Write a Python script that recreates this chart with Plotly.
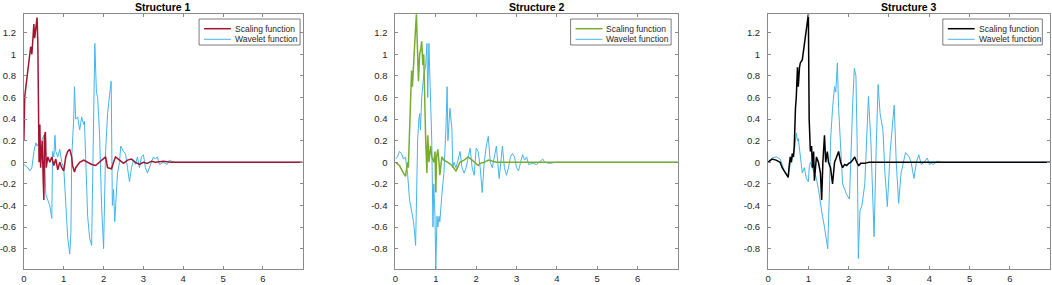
import plotly.graph_objects as go

# ---------------- data ----------------
s1_x = [0, 0.02, 0.05, 0.08, 0.12, 0.17, 0.2, 0.22, 0.25, 0.27, 0.3, 0.33, 0.35, 0.37, 0.38, 0.4, 0.42, 0.44, 0.46, 0.48, 0.5,
        0.52, 0.54, 0.56, 0.6, 0.65, 0.7, 0.75, 0.8, 0.85, 0.9, 0.95, 1.0, 1.05, 1.1, 1.15, 1.2, 1.22, 1.27, 1.3, 1.35, 1.4,
        1.5, 1.6, 1.7, 1.8, 1.9, 2.0, 2.05, 2.1, 2.2, 2.25, 2.3, 2.4, 2.5, 2.6, 2.7, 2.8, 2.9, 3.0, 3.1, 3.2, 3.3, 3.5, 3.7, 4.0, 7.0]
s1_y = [0.2, 0.6, 0.7, 0.8, 0.9, 1.07, 1.0, 1.1, 1.28, 1.15, 1.25, 1.34, 1.1, 0.35, 0.0, 0.35, -0.05, 0.1, 0.2, -0.1, -0.35,
        0.25, 0.28, -0.05, 0.05, 0.0, 0.05, -0.03, 0.03, -0.07, 0.0, -0.05, -0.08, 0.05, 0.1, 0.12, 0.05, -0.03, -0.09, -0.05, -0.03, 0.0,
        0.02, 0.0, -0.02, -0.03, 0.0, 0.03, 0.05, -0.05, -0.06, 0.0, 0.05, 0.02, -0.01, 0.02, 0.03, 0.0, -0.02, 0.0, -0.01, 0.01, 0.0, 0.01, 0.0, 0.0, 0.0]

w1_x = [0, 0.1, 0.15, 0.2, 0.25, 0.3, 0.33, 0.38, 0.45, 0.5, 0.52, 0.55, 0.6, 0.65, 0.7, 0.72, 0.75, 0.78, 0.8, 0.85, 0.9, 0.95,
        1.0, 1.05, 1.1, 1.15, 1.18, 1.2, 1.25, 1.27, 1.3, 1.35, 1.4, 1.45, 1.5, 1.52, 1.55, 1.6, 1.65, 1.7, 1.72, 1.75, 1.78, 1.82,
        1.85, 1.88, 1.9, 1.95, 1.98, 2.0, 2.05, 2.1, 2.15, 2.19, 2.22, 2.25, 2.28, 2.32, 2.35, 2.4, 2.43, 2.5, 2.55, 2.6, 2.65, 2.7,
        2.75, 2.8, 2.85, 2.9, 2.95, 3.0, 3.05, 3.1, 3.15, 3.2, 3.25, 3.3, 3.35, 3.4, 3.5, 3.6, 3.65, 3.7, 3.8, 4.0, 7.0]
w1_y = [-0.02, -0.05, -0.08, -0.05, 0.1, 0.18, 0.15, 0.18, 0.2, 0.25, 0.05, -0.3, -0.35, -0.4, -0.52, 0.1, 0.05, 0.25, 0.1, 0.05, 0.12, 0.0,
        -0.05, -0.35, -0.7, -0.85, -0.65, 0.05, 0.4, 0.7, 0.4, 0.42, 0.3, 0.42, 0.35, 0.38, 0.0, -0.5, -0.7, -0.77, -0.3, 0.6, 1.1, 0.65,
        0.6, 0.4, 0.25, -0.4, -0.6, -0.8, 0.1, 0.45, 0.62, 0.75, -0.4, -0.25, -0.55, -0.3, -0.1, 0.0, 0.15, 0.1, 0.08, -0.05, -0.18, -0.05,
        0.02, -0.02, 0.05, -0.05, 0.05, 0.07, -0.05, -0.1, -0.05, 0.02, 0.05, 0.03, 0.05, -0.02, 0.0, -0.02, 0.02, 0.01, 0.0, 0.0, 0.0]

s2_x = [0, 0.1, 0.2, 0.25, 0.28, 0.3, 0.32, 0.35, 0.38, 0.4, 0.42, 0.45, 0.48, 0.5, 0.52, 0.55, 0.57, 0.6, 0.63, 0.65, 0.68, 0.7,
        0.72, 0.75, 0.78, 0.8, 0.83, 0.87, 0.9, 0.95, 0.98, 1.0, 1.02, 1.05, 1.08, 1.1, 1.12, 1.15, 1.2, 1.3, 1.4, 1.45, 1.5, 1.55,
        1.6, 1.7, 1.8, 1.9, 2.0, 2.05, 2.1, 2.2, 2.3, 2.4, 2.5, 2.6, 2.8, 3.0, 7.0]
s2_y = [0.0, -0.03, -0.1, -0.13, -0.05, 0.0, -0.05, 0.3, 0.7, 0.85, 0.7, 0.95, 1.15, 1.25, 1.37, 0.9, 0.75, 1.0, 1.05, 1.12, 0.9, 1.0,
        0.55, 0.2, -0.1, 0.25, 0.0, 0.15, 0.05, 0.0, 0.1, -0.28, 0.05, 0.12, 0.0, -0.12, -0.05, 0.05, 0.02, 0.0, -0.03, -0.05, -0.08, -0.04,
        0.0, 0.02, 0.05, 0.02, -0.02, -0.03, -0.01, 0.0, 0.02, 0.01, 0.0, 0.0, 0.0, 0.0, 0.0]

w2_x = [0, 0.05, 0.1, 0.15, 0.2, 0.25, 0.28, 0.3, 0.35, 0.4, 0.45, 0.5, 0.52, 0.55, 0.58, 0.6, 0.62, 0.65, 0.7, 0.75, 0.78, 0.8,
        0.83, 0.85, 0.9, 0.93, 0.95, 0.98, 1.0, 1.03, 1.05, 1.08, 1.1, 1.15, 1.2, 1.25, 1.28, 1.3, 1.35, 1.4, 1.42, 1.45, 1.5, 1.55,
        1.6, 1.65, 1.7, 1.75, 1.8, 1.85, 1.9, 1.95, 2.0, 2.05, 2.1, 2.15, 2.2, 2.25, 2.3, 2.35, 2.4, 2.45, 2.5, 2.57, 2.65, 2.7,
        2.75, 2.8, 2.85, 2.9, 2.95, 3.0, 3.05, 3.1, 3.15, 3.2, 3.25, 3.3, 3.4, 3.5, 3.6, 3.65, 3.7, 3.8, 4.0, 7.0]
w2_y = [0.03, 0.05, 0.1, 0.08, 0.03, 0.05, -0.05, -0.1, -0.35, -0.45, -0.55, -0.77, -0.2, 0.2, 0.4, 0.45, 0.3, 0.6, 0.8, 0.9, 1.1, 0.6,
        1.1, 0.85, 0.2, -0.6, -0.2, -0.5, -0.99, -0.5, -0.6, -0.5, -0.55, -0.3, -0.1, 0.3, 0.7, 0.2, 0.5, 0.3, -0.05, 0.0, -0.05, 0.02,
        0.1, -0.05, -0.1, -0.05, 0.05, 0.13, -0.05, -0.12, 0.13, 0.1, -0.05, -0.28, 0.0, 0.15, 0.24, 0.0, -0.05, 0.05, 0.15, -0.15, 0.15, -0.05,
        -0.12, -0.05, 0.05, 0.08, 0.05, -0.05, -0.08, 0.0, 0.07, 0.02, 0.05, -0.02, -0.01, -0.02, 0.01, 0.03, 0.0, -0.01, 0.0, 0.0]

s3_x = [0, 0.05, 0.1, 0.2, 0.3, 0.35, 0.4, 0.45, 0.5, 0.52, 0.55, 0.58, 0.6, 0.63, 0.65, 0.68, 0.7, 0.73, 0.75, 0.78, 0.8, 0.85,
        0.9, 0.95, 0.98, 1.0, 1.02, 1.05, 1.08, 1.1, 1.13, 1.15, 1.2, 1.25, 1.3, 1.33, 1.36, 1.4, 1.43, 1.47, 1.5, 1.55, 1.6, 1.65,
        1.7, 1.75, 1.8, 1.85, 1.9, 1.95, 2.0, 2.05, 2.1, 2.15, 2.2, 2.25, 2.3, 2.4, 2.5, 7.0]
s3_y = [0.0, 0.02, 0.03, 0.02, 0.0, -0.05, -0.08, -0.1, -0.14, -0.05, 0.05, 0.0, 0.08, 0.05, 0.15, 0.5, 0.6, 0.88, 0.7, 0.88, 0.92, 0.95,
        1.1, 1.2, 1.3, 1.37, 0.4, 0.1, 0.15, -0.05, 0.1, -0.17, 0.05, 0.0, -0.1, -0.35, 0.0, 0.25, 0.0, 0.1, 0.0, -0.05, -0.2, 0.0,
        0.05, 0.1, 0.0, -0.05, -0.02, -0.03, -0.01, 0.0, 0.02, 0.05, 0.0, -0.03, -0.01, -0.01, 0.0, 0.0]

w3_x = [0, 0.1, 0.2, 0.3, 0.35, 0.4, 0.45, 0.5, 0.55, 0.6, 0.65, 0.7, 0.73, 0.75, 0.8, 0.85, 0.9, 0.95, 1.0, 1.02, 1.05, 1.1,
        1.15, 1.2, 1.25, 1.3, 1.35, 1.4, 1.48, 1.52, 1.55, 1.6, 1.65, 1.68, 1.72, 1.75, 1.8, 1.85, 1.9, 1.95, 2.02, 2.06, 2.1, 2.14,
        2.18, 2.21, 2.24, 2.28, 2.33, 2.4, 2.45, 2.49, 2.55, 2.63, 2.68, 2.73, 2.78, 2.85, 2.9, 2.96, 3.03, 3.08, 3.13, 3.18, 3.24,
        3.3, 3.41, 3.5, 3.55, 3.62, 3.68, 3.74, 3.8, 3.87, 3.95, 4.0, 4.05, 4.1, 4.2, 4.3, 7.0]
w3_y = [0.0, 0.04, 0.05, 0.03, -0.02, -0.08, -0.1, -0.12, -0.02, 0.05, 0.1, 0.27, 0.2, 0.22, 0.05, -0.1, -0.05, -0.15, -0.18, -0.05, 0.0, -0.05,
        -0.1, -0.15, -0.25, -0.4, -0.5, -0.6, -0.8, -0.3, 0.2, 0.5, 0.7, 0.65, 0.92, 0.5, 0.1, -0.2, -0.25, -0.3, -0.34, 0.2, 0.55, 0.87,
        0.8, 0.2, -0.89, -0.45, -0.4, -0.2, 0.3, 0.61, 0.2, -0.69, 0.1, 0.72, 0.45, 0.3, -0.1, -0.41, 0.1, 0.35, 0.53, 0.0, -0.38,
        -0.1, 0.09, 0.05, 0.0, -0.15, 0.0, 0.07, -0.02, 0.0, 0.04, -0.02, -0.01, -0.02, 0.01, 0.0, 0.0]

titles = ["Structure 1", "Structure 2", "Structure 3"]
legend_names = ["Scaling function", "Wavelet function"]
scaling_colors = ["#A2142F", "#77AC30", "#000000"]
wavelet_color = "#45B4EA"
x_ticks = [0, 1, 2, 3, 4, 5, 6]
y_ticks = [-0.8, -0.6, -0.4, -0.2, 0, 0.2, 0.4, 0.6, 0.8, 1, 1.2]
y_tick_text = ["-0.8", "-0.6", "-0.4", "-0.2", "0", "0.2", "0.4", "0.6", "0.8", "1", "1.2"]

# ---------------- figure ----------------
W, H = 1052, 285
ML, MR, MT, MB = 0, 0, 14, 16
domains_px = [(19, 299), (392.3, 676), (766.7, 1050)]
legend_box_px = [(195, 296.5), (568.3, 669.3), (942.3, 1042.3)]
LEG_TOP, LEG_BOT = 19, 45
LEG_ROWS = [28.7, 39.3]


def px_x(p):
    return (p - ML) / (W - ML - MR)


def px_y(p):
    return 1 - (p - MT) / (H - MT - MB)


scal = [(s1_x, s1_y), (s2_x, s2_y), (s3_x, s3_y)]
wave = [(w1_x, w1_y), (w2_x, w2_y), (w3_x, w3_y)]

fig = go.Figure()
axis_col = "#8a8a8a"
font_col = "#262626"
annotations, shapes = [], []
layout = dict(
    width=W, height=H,
    margin=dict(l=ML, r=MR, t=MT, b=MB),
    paper_bgcolor="white", plot_bgcolor="white",
    font=dict(family="Liberation Sans, Arial, sans-serif", size=10, color=font_col),
    showlegend=False,
)

for i in range(3):
    sfx = "" if i == 0 else str(i + 1)
    xa, ya = "x" + sfx, "y" + sfx
    fig.add_trace(go.Scatter(x=wave[i][0], y=wave[i][1], mode="lines", name=legend_names[1],
                             line=dict(color=wavelet_color, width=1), xaxis=xa, yaxis=ya))
    fig.add_trace(go.Scatter(x=scal[i][0], y=scal[i][1], mode="lines", name=legend_names[0],
                             line=dict(color=scaling_colors[i], width=1.5), xaxis=xa, yaxis=ya))
    d0, d1 = px_x(domains_px[i][0]), px_x(domains_px[i][1])
    common = dict(showgrid=False, zeroline=False, showline=True, linecolor=axis_col, linewidth=1,
                  mirror="ticks", ticks="inside", ticklen=3, tickcolor=axis_col,
                  tickfont=dict(size=9.5, color=font_col))
    layout["xaxis" + sfx] = dict(domain=[d0, d1], range=[0, 6.995], tickvals=x_ticks, anchor=ya,
                                 ticklabelstandoff=1, **common)
    layout["yaxis" + sfx] = dict(domain=[0, 1], range=[-0.988, 1.373], tickvals=y_ticks, ticktext=y_tick_text,
                                 anchor=xa, ticklabelstandoff=5, **common)
    annotations.append(dict(text="<b>" + titles[i] + "</b>", xref="paper", yref="paper",
                            x=(d0 + d1) / 2, y=1, yanchor="bottom", xanchor="center",
                            showarrow=False, font=dict(size=10.5, color="#000000"), yshift=-1))
    # legend box
    bx0, bx1 = legend_box_px[i]
    shapes.append(dict(type="rect", xref="paper", yref="paper", x0=px_x(bx0), x1=px_x(bx1),
                       y0=px_y(LEG_BOT), y1=px_y(LEG_TOP), line=dict(color="#5a5a5a", width=0.8),
                       fillcolor="white", layer="above"))
    leg_colors = [scaling_colors[i], wavelet_color]
    leg_widths = [1.5, 1]
    for k in range(2):
        shapes.append(dict(type="line", xref="paper", yref="paper", x0=px_x(bx0 + 5), x1=px_x(bx0 + 32),
                           y0=px_y(LEG_ROWS[k]), y1=px_y(LEG_ROWS[k]),
                           line=dict(color=leg_colors[k], width=leg_widths[k]), layer="above"))
        annotations.append(dict(text=legend_names[k], xref="paper", yref="paper", x=px_x(bx0 + 34),
                                y=px_y(LEG_ROWS[k]), xanchor="left", yanchor="middle", showarrow=False,
                                font=dict(size=8.5, color=font_col)))

layout["annotations"] = annotations
layout["shapes"] = shapes
fig.update_layout(**layout)
fig.write_html("out.html", config={"displayModeBar": False},
               post_script="document.body.style.margin='0';document.body.style.overflow='hidden';")
